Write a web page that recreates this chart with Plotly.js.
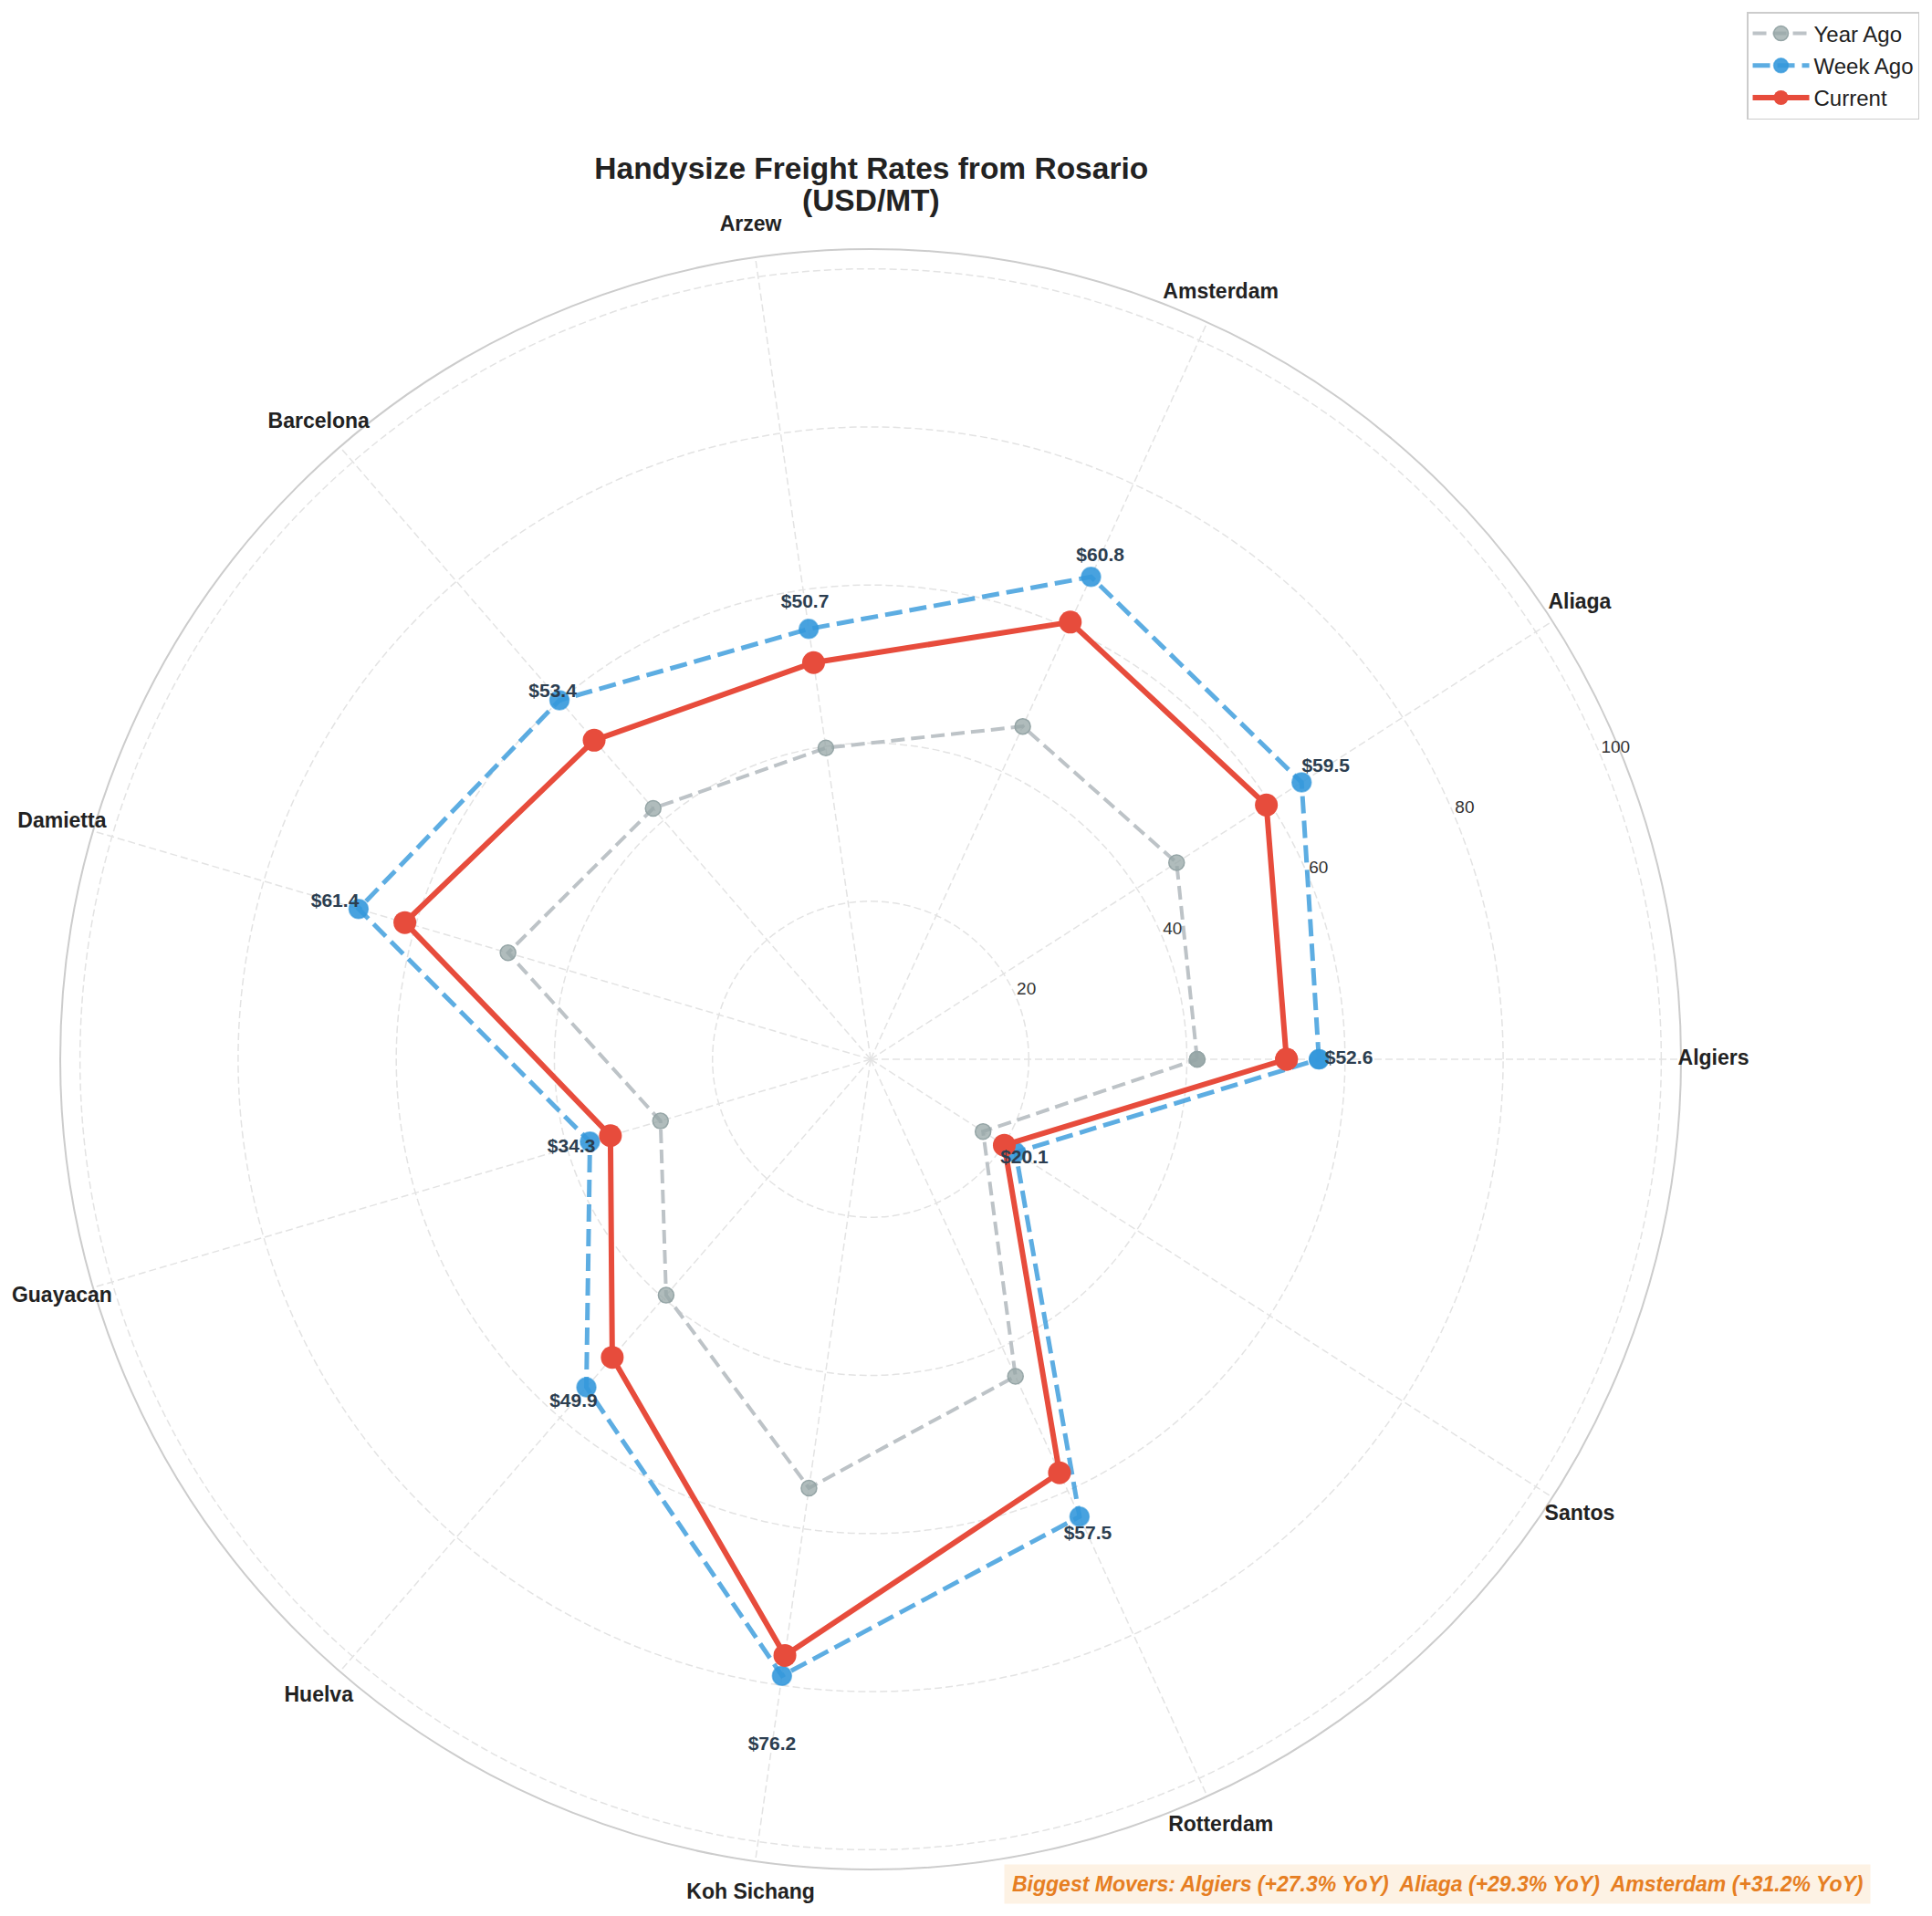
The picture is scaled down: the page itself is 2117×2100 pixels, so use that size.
<!DOCTYPE html>
<html>
<head>
<meta charset="utf-8">
<script src="https://cdn.plot.ly/plotly-3.0.1.min.js"></script>
<style>
  html, body { margin: 0; padding: 0; background: #fff; }
  #chart { width: 2117px; height: 2100px; }
</style>
</head>
<body>
<div id="chart"></div>
<script>
// freight rates from Rosario, USD/MT
var ports = ['Algiers', 'Aliaga', 'Amsterdam', 'Arzew', 'Barcelona', 'Damietta',
             'Guayacan', 'Huelva', 'Koh Sichang', 'Rotterdam', 'Santos'];
var yearAgo = [41.3, 46.0, 46.3, 39.8, 42.0, 47.8, 27.7, 39.5, 54.8, 44.1, 16.9];
var weekAgo = [56.7, 64.8, 67.1, 55.0, 60.1, 67.5, 37.0, 54.9, 78.8, 63.6, 21.8];
var current = [52.6, 59.5, 60.8, 50.7, 53.4, 61.4, 34.3, 49.9, 76.2, 57.5, 20.1];
var radialTicks = [20, 40, 60, 80, 100];
var movers = ['Algiers (+27.3% YoY)', 'Aliaga (+29.3% YoY)', 'Amsterdam (+31.2% YoY)'];

var FONT = 'Liberation Sans, Arial, Helvetica, sans-serif';
var W = 2117, H = 2100;
var CX = 954, CY = 1161, RPX = 888;   // polar centre / rim radius in px
var RMAX = 102.5;
var RLABEL_ANGLE = 22.5;

function dom(rpx) {
    return {
        x: [(CX - rpx) / W, (CX + rpx) / W],
        y: [1 - (CY + rpx) / H, 1 - (CY - rpx) / H]
    };
}

// close the loop like a radar polygon
function closed(a) { return a.concat([a[0]]); }

var year = {
    type: 'scatterpolar',
    r: closed(yearAgo),
    theta: closed(ports),
    mode: 'lines+markers',
    name: 'Year Ago',
    legendgroup: 'y',
    line: { color: '#bdc3c7', width: 4, dash: '15px,7px' },
    marker: { size: 17, color: 'rgba(149,165,166,0.75)', line: { color: '#95a5a6', width: 1.5 } }
};
var week = {
    type: 'scatterpolar',
    r: closed(weekAgo),
    theta: closed(ports),
    mode: 'lines+markers',
    name: 'Week Ago',
    legendgroup: 'w',
    line: { color: 'rgba(52,152,219,0.8)', width: 5, dash: '19px,8px' },
    marker: { size: 21, color: 'rgba(52,152,219,0.9)', line: { color: 'rgba(52,152,219,0.6)', width: 1.5 } }
};
var cur = {
    type: 'scatterpolar',
    r: closed(current),
    theta: closed(ports),
    mode: 'lines+markers',
    name: 'Current',
    legendgroup: 'c',
    line: { color: '#e74c3c', width: 6 },
    marker: { size: 25, color: '#e74c3c' }
};
// value labels sit a bit outside the current point
var labels = {
    type: 'scatterpolar',
    r: current.map(function (v) { return v * 1.15; }),
    theta: ports,
    mode: 'text',
    text: current.map(function (v) { return '$' + v.toFixed(1); }),
    textfont: { family: FONT, size: 21, color: '#2c3e50', weight: 'bold' },
    showlegend: false,
    hoverinfo: 'skip'
};
// port names centred just outside the rim, on an overlay polar with a wider range
var outer = 939;
var portNames = {
    type: 'scatterpolar',
    subplot: 'polar2',
    r: ports.map(function () { return RMAX * 1.04; }),
    theta: ports,
    mode: 'text',
    text: ports,
    textfont: { family: FONT, size: 23, color: '#222222', weight: 'bold' },
    cliponaxis: false,
    showlegend: false,
    hoverinfo: 'skip'
};
// radial tick labels along the 22.5 degree spoke, matplotlib style
var rLabels = {
    type: 'scatterpolar',
    subplot: 'polar3',
    r: radialTicks,
    theta: radialTicks.map(function () { return RLABEL_ANGLE; }),
    mode: 'text',
    text: radialTicks.map(String),
    textposition: 'top right',
    textfont: { family: FONT, size: 19, color: '#333333' },
    cliponaxis: false,
    showlegend: false,
    hoverinfo: 'skip'
};

var hidden = { visible: true, showline: false, showgrid: false, showticklabels: false, ticks: '' };

var layout = {
    width: W,
    height: H,
    margin: { l: 0, r: 0, t: 0, b: 0 },
    paper_bgcolor: '#ffffff',
    font: { family: FONT, color: '#222222' },
    title: {
        text: 'Handysize Freight Rates from Rosario',
        font: { family: FONT, size: 33.5, color: '#222222', weight: 'bold' },
        x: 0.451, xanchor: 'center',
        y: 0.9124, yanchor: 'middle'
    },
    polar: {
        domain: dom(RPX),
        bgcolor: '#ffffff',
        radialaxis: {
            range: [0, RMAX],
            tickvals: radialTicks,
            showticklabels: false,
            showline: false,
            ticks: '',
            gridcolor: '#e3e3e3',
            gridwidth: 1.5,
            griddash: '8px,4px'
        },
        angularaxis: {
            direction: 'counterclockwise',
            rotation: 0,
            categoryorder: 'array',
            categoryarray: ports,
            showline: true,
            linecolor: '#cccccc',
            linewidth: 2,
            ticks: '',
            showticklabels: false,
            gridcolor: '#e3e3e3',
            gridwidth: 1.5,
            griddash: '8px,4px'
        }
    },
    polar2: {
        domain: dom(outer),
        bgcolor: 'rgba(0,0,0,0)',
        radialaxis: Object.assign({ range: [0, RMAX * outer / RPX] }, hidden),
        angularaxis: Object.assign({
            direction: 'counterclockwise',
            rotation: 0,
            categoryorder: 'array',
            categoryarray: ports
        }, hidden)
    },
    polar3: {
        domain: dom(RPX),
        bgcolor: 'rgba(0,0,0,0)',
        radialaxis: Object.assign({ range: [0, RMAX] }, hidden),
        angularaxis: Object.assign({
            type: 'linear',
            thetaunit: 'degrees',
            direction: 'counterclockwise',
            rotation: 0
        }, hidden)
    },
    legend: {
        x: 0.9934, xanchor: 'right',
        y: 0.9938, yanchor: 'top',
        bgcolor: '#ffffff',
        bordercolor: '#cccccc',
        borderwidth: 1.5,
        itemwidth: 62,
        tracegroupgap: 1,
        font: { family: FONT, size: 24, color: '#222222' }
    },
    annotations: [{
        xref: 'paper', yref: 'paper',
        x: 0.451, y: 0.8957,
        xanchor: 'center', yanchor: 'middle',
        showarrow: false,
        text: '(USD/MT)',
        font: { family: FONT, size: 33.5, color: '#222222', weight: 'bold' }
    }, {
        xref: 'paper', yref: 'paper',
        x: 0.7441, y: 0.0167,
        xanchor: 'center', yanchor: 'middle',
        showarrow: false,
        text: 'Biggest Movers: ' + movers.join('\u00a0 '),
        font: { family: FONT, size: 23, color: '#e67e22', weight: 'bold', style: 'italic' },
        bgcolor: '#fdf2e4',
        borderpad: 8
    }],
    showlegend: true
};

Plotly.newPlot('chart', [year, week, cur, labels, portNames, rLabels], layout, { displayModeBar: false, staticPlot: true });
</script>
</body>
</html>
